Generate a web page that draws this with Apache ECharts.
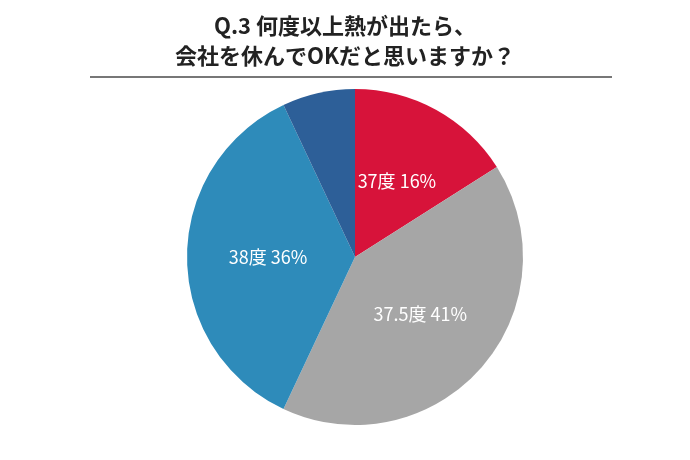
<!DOCTYPE html><html><head><meta charset="utf-8"><script src="https://cdn.jsdelivr.net/npm/echarts@6/dist/echarts.min.js"></script></head><body style="margin:0"><div id="c" style="width:690px;height:460px"></div><script>
const categories=['37度','37.5度','38度','38.5度以上'];
const values=[16,41,36,7];
const colors=['#d7133a','#a6a6a6','#2e8bba','#2d5f98'];
const labelText=['37度 16%','37.5度 41%','38度 36%','38.5度以上\n7%'];
const chart=echarts.init(document.getElementById('c'));
chart.setOption({
 title:{text:'Q.3 何度以上熱が出たら、\n会社を休んでOKだと思いますか？',left:'center',top:6,textStyle:{fontFamily:'Noto Sans CJK JP',fontSize:22,fontWeight:'bold',color:'#222',lineHeight:30}},
 graphic:[{type:'line',shape:{x1:90,y1:77,x2:612,y2:77},style:{stroke:'#777',lineWidth:2}}],
 series:[{type:'pie',center:[355,257],radius:[0,168],startAngle:90,clockwise:true,animation:false,
  data:categories.map((c,i)=>({name:c,value:values[i],itemStyle:{color:colors[i]},
   label:{formatter:labelText[i],fontSize:i==3?15:18,lineHeight:i==3?20:22}})),
  label:{position:'inside',color:'#fff',fontFamily:'Noto Sans CJK JP'},
  itemStyle:{borderColor:'#fff',borderWidth:0}}]
});
</script></body></html>
